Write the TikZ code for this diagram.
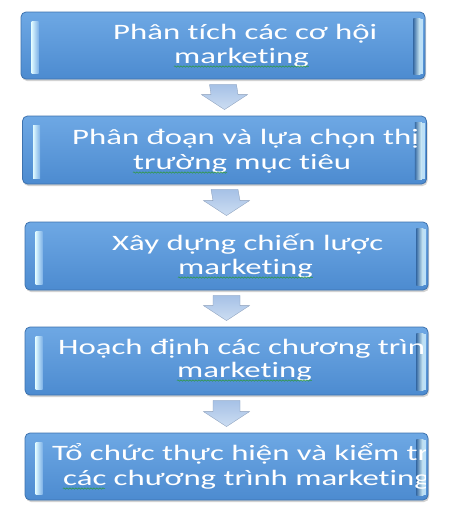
\documentclass[tikz,border=0pt]{standalone}
\usepackage{fontspec}
\newfontfamily\boxfont[FakeStretch=1.49,Ligatures=NoCommon]{Carlito}
\usetikzlibrary{calc,shadows,decorations.pathmorphing}
\definecolor{boxtop}{HTML}{6EA8E4}
\definecolor{boxbot}{HTML}{4C8BD0}
\definecolor{boxline}{HTML}{3D72AE}
\definecolor{arrtop}{HTML}{A6C1E6}
\definecolor{arrbot}{HTML}{CCDDF2}
\definecolor{stripl}{HTML}{DDF8FF}
\definecolor{squig}{HTML}{2E9A3A}
\tikzset{
  flowbox/.style={rectangle, rounded corners=5pt, draw=boxline, line width=0.8pt,
    top color=boxtop, bottom color=boxbot, inner sep=0pt,
    drop shadow={opacity=0.35, shadow xshift=1pt, shadow yshift=-2pt}},
  boxtext/.style={anchor=base west, inner sep=0pt, text=white,
    font=\boxfont\fontsize{22}{26}\selectfont},
  spell/.style={draw=squig, line width=0.5pt,
    decorate, decoration={snake, amplitude=0.7pt, segment length=3pt}},
  blockarrow/.style={top color=arrtop, bottom color=arrbot, draw=arrtop!80!black, line width=0.3pt}
}
\newcommand\strips[1]{%
  \fill[left color=stripl, right color=boxtop!90!white]
    ($(#1.north west)+(11,10)$) rectangle ($(#1.south west)+(18,-6)$);
  \fill[left color=boxbot!80!black, right color=stripl]
    ($(#1.north east)+(-12,7)$) rectangle ($(#1.south east)+(-5,-5)$);
  \fill[stripl!70!boxtop]
    ($(#1.north east)+(-5,7)$) rectangle ($(#1.south east)+(-2,-5)$);
}
\newcommand\flowarrow[2]{%
  \path[blockarrow]
    ($(#1.south)+(-13.5,5)$) -- ($(#1.south)+(13.5,5)$) --
    ($(#2.north)+(13.5,-21)$) -- ($(#2.north)+(23,-21)$) --
    ($(#2.north)+(0,-6)$) -- ($(#2.north)+(-23,-21)$) --
    ($(#2.north)+(-13.5,-21)$) -- cycle;
}
\begin{document}
\begin{tikzpicture}[x=1pt,y=-1pt]
\useasboundingbox (0,0) rectangle (450,515);
\fill[white] (0,0) rectangle (450,515);

\node[flowbox, minimum width=404pt, minimum height=67pt] (b1) at (223,45.5) {};
\node[flowbox, minimum width=404pt, minimum height=68pt] (b2) at (224.5,150) {};
\node[flowbox, minimum width=403pt, minimum height=68pt] (b3) at (226.5,256) {};
\node[flowbox, minimum width=403pt, minimum height=68pt] (b4) at (226.5,361) {};
\node[flowbox, minimum width=403pt, minimum height=67pt] (b5) at (226.5,466.5) {};

\strips{b1}\strips{b2}\strips{b3}\strips{b4}\strips{b5}

\flowarrow{b1}{b2}
\flowarrow{b2}{b3}
\flowarrow{b3}{b4}
\flowarrow{b4}{b5}

\begin{scope}
\clip ($(b1.north west)+(2,2)$) rectangle ($(b1.south east)+(-3,-2)$);
\node[boxtext] (t1a) at (113,39) {Phân tích các cơ hội};
\node[boxtext] (t1b) at (174,63) {marketing};
\end{scope}
\begin{scope}
\clip ($(b2.north west)+(2,2)$) rectangle ($(b2.south east)+(-3,-2)$);
\node[boxtext] (t2a) at (72,144) {Phân đoạn và lựa chọn thị};
\node[boxtext] (t2b) at (133,169) {trường mục tiêu};
\end{scope}
\begin{scope}
\clip ($(b3.north west)+(2,2)$) rectangle ($(b3.south east)+(-3,-2)$);
\node[boxtext] (t3a) at (112,250) {Xây dựng chiến lược};
\node[boxtext] (t3b) at (178,274) {marketing};
\end{scope}
\begin{scope}
\clip ($(b4.north west)+(2,2)$) rectangle ($(b4.south east)+(-3,-2)$);
\node[boxtext] (t4a) at (58,354) {Hoạch định các chương trình};
\node[boxtext] (t4b) at (177,377) {marketing};
\end{scope}
\begin{scope}
\clip ($(b5.north west)+(2,2)$) rectangle ($(b5.south east)+(-3,-2)$);
\node[boxtext] (t5a) at (52,460) {Tổ chức thực hiện và kiểm tra};
\node[boxtext] (t5b) at (63,485) {các chương trình marketing};
\end{scope}

\draw[spell] ($(t1b.base west)+(0,3.5)$) -- ($(t1b.base east)+(0,3.5)$);
\draw[spell] (133,172.5) -- (227,172.5);
\draw[spell] ($(t3b.base west)+(0,3.5)$) -- ($(t3b.base east)+(0,3.5)$);
\draw[spell] ($(t4b.base west)+(0,3.5)$) -- ($(t4b.base east)+(0,3.5)$);
\draw[spell] (63,488.5) -- (105,488.5);
\end{tikzpicture}
\end{document}
